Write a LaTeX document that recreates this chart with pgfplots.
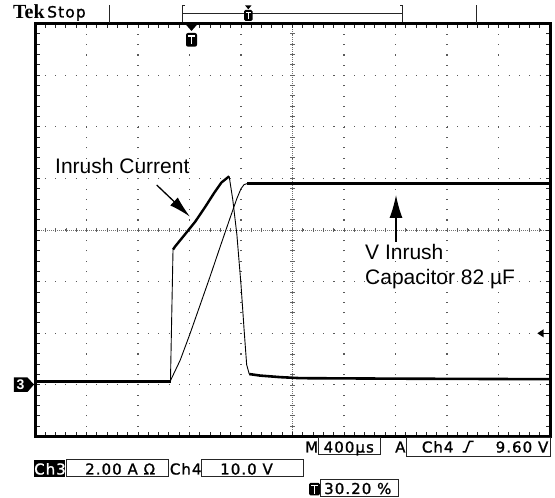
\documentclass[border=0pt]{standalone}
\usepackage{fontspec}
\setmainfont{Liberation Sans}
\newfontfamily\scopefont[LetterSpace=7,FakeBold=1.2]{DejaVu Sans}
\newfontfamily\tekfont{Liberation Serif}
\usepackage{pgfplots}
\pgfplotsset{compat=1.18}
\usetikzlibrary{arrows.meta}
\begin{document}
\begin{tikzpicture}
\path[use as bounding box] (-35pt,-61.5pt) rectangle (520pt,436.5pt);
\begin{scope}[x=1pt, y=-1pt, shift={(-35pt,436.5pt)}]
  % centre lines with fine ticks
  \draw[black!55, line width=0.7pt, dash pattern=on 0.7pt off 1.3pt] (35,230) -- (550,230);
  \draw[black!55, line width=0.7pt, dash pattern=on 0.7pt off 1.3pt] (292.5,23.5) -- (292.5,436.5);
  \foreach \k in {1,...,49} \draw[black!60, line width=0.7pt] ({35+10.3*\k},227.8) -- ++(0,4.4);
  \foreach \k in {1,...,39} \draw[black!60, line width=0.7pt] (290.3,{23.5+10.325*\k}) -- ++(4.4,0);
\end{scope}
\begin{axis}[
  at={(0pt,0pt)}, anchor=south west,
  scale only axis, width=515pt, height=413pt,
  xmin=-5, xmax=5, ymin=-4, ymax=4,
  xtick={-5,...,5}, ytick={-4,...,4},
  minor x tick num=4, minor y tick num=4,
  xticklabels={}, yticklabels={},
  tick align=inside,
  major tick length=4.5pt, minor tick length=4.5pt,
  every tick/.style={black!85, line width=0.9pt},
  grid=major,
  major grid style={black!65, line width=1.05pt, dash pattern=on 1.05pt off 9.26pt, dash phase=0.52pt},
  axis line style={black, line width=3pt},
  clip=false,
]
% current (Ch3)
\addplot[black, line width=3pt] coordinates {(-5,-2.94) (-2.36,-2.94)};
\addplot[black, line width=0.9pt] coordinates {(-2.37,-2.94) (-2.32,-0.38)};
\addplot[black, line width=2.4pt, line join=round] coordinates {(-2.32,-0.38) (-2.28,-0.32) (-2.10,-0.10) (-1.89,0.16) (-1.70,0.44) (-1.52,0.72) (-1.38,0.92) (-1.23,1.04)};
\addplot[black, line width=0.9pt] coordinates {(-1.23,1.04) (-1.16,0.59) (-1.08,-0.09) (-1.00,-1.06) (-0.94,-1.93) (-0.89,-2.61) (-0.84,-2.79)};
\addplot[black, line width=2.6pt] coordinates {(-0.84,-2.79) (-0.63,-2.82) (-0.24,-2.85) (0.15,-2.87) (2.09,-2.88) (5,-2.89)};
% voltage (Ch4)
\addplot[black, line width=0.9pt] coordinates {(-2.38,-2.94) (-2.18,-2.52) (-1.99,-2.01) (-1.80,-1.47) (-1.60,-0.90) (-1.41,-0.34) (-1.21,0.24) (-1.08,0.61) (-1.00,0.80) (-0.94,0.88) (-0.86,0.905)};
\addplot[black, line width=2.6pt] coordinates {(-0.88,0.905) (5,0.905)};
\end{axis}
\begin{scope}[x=1pt, y=-1pt, shift={(-35pt,436.5pt)}]
  \tikzset{sc/.style={anchor=base west, inner sep=0pt, font=\scopefont\fontsize{15}{15}\selectfont},
           bx/.style={black!85, line width=1pt}}
  % header
  \node[anchor=base west, inner sep=0pt, font=\tekfont\bfseries\fontsize{20}{20}\selectfont] at (13,18.5) {Tek};
  \node[anchor=base west, inner sep=0pt, font=\scopefont\fontsize{15.5}{15.5}\selectfont] at (47,17.5) {Stop};
  \draw[bx] (109,5) -- (109,23);
  \draw[bx] (476.7,5.5) -- (476.7,23);
  \draw[bx] (185,5.7) -- (182.7,5.7) -- (182.7,22);
  \draw[bx] (182.7,13.3) -- (402.7,13.3);
  \draw[bx] (400,5.7) -- (402.7,5.7) -- (402.7,22);
  \fill (245,5.3) -- (251.6,5.3) -- (248.3,9.3) -- cycle;
  \fill[rounded corners=1.5pt] (244,10) rectangle (252.6,21);
  \draw[white, line width=1.3pt] (245.6,12.6) -- (251,12.6) (248.3,12.6) -- (248.3,19.5);
  \fill (184.5,23) -- (198.5,23) -- (191.5,31) -- cycle;
  \fill[rounded corners=2pt] (186,33) rectangle (197,46.7);
  \draw[white, line width=1.5pt] (188,36) -- (195,36) (191.5,36) -- (191.5,44.5);
  % annotations
  \node[anchor=base west, inner sep=0pt, font=\fontsize{21}{21}\selectfont] at (55,174) {Inrush Current};
  \node[anchor=base west, inner sep=0pt, font=\fontsize{21}{21}\selectfont] at (365,259.3) {V Inrush};
  \node[anchor=base west, inner sep=0pt, font=\fontsize{21}{21}\selectfont] at (365,284.3) {Capacitor 82 µF};
  \draw[line width=1.3pt, -{Latex[length=22pt,width=11pt]}] (156.7,185) -- (190,216.7);
  \draw[line width=1.3pt, -{Latex[length=23pt,width=13pt]}] (396,242) -- (396,195);
  % trigger level arrow
  \fill (537.3,333.3) -- (543.5,329.3) -- (543.5,337.3) -- cycle;
  \draw[line width=1.3pt] (543,333.3) -- (549,333.3);
  % ground marker
  \fill (14,377.5) -- (27.5,377.5) -- (34,384.5) -- (27.5,392) -- (14,392) -- cycle;
  \node[white, inner sep=0pt, font=\bfseries\fontsize{14}{14}\selectfont] at (20.5,385) {3};
  % readouts
  \node[sc] at (305,452.5) {M};
  \draw[bx] (318.3,437.5) rectangle (380,454.5);
  \node[sc] at (323.5,452.5) {400µs};
  \node[sc] at (395,452.5) {A};
  \draw[bx] (406.7,437.5) rectangle (550,457);
  \node[sc] at (421.7,452.5) {Ch4};
  \draw[line width=1.5pt] (462.5,452) -- (465.5,452) -- (469.5,441.5) -- (473.5,441.5);
  \node[sc, anchor=base east] at (548.5,452.5) {9.60 V};
  \fill (33.7,460.5) rectangle (65,477);
  \node[sc, white] at (34,474.5) {Ch3};
  \draw[bx] (66.4,460) rectangle (168,477);
  \node[sc] at (85,474.5) {2.00 A Ω};
  \node[sc] at (169.7,474.5) {Ch4};
  \draw[bx] (201.7,460) rectangle (303,477);
  \node[sc] at (220,474.5) {10.0 V};
  \fill[rounded corners=1.5pt] (309,483) rectangle (320,495.5);
  \draw[white, line width=1.4pt] (310.8,485.5) -- (318.2,485.5) (314.5,485.5) -- (314.5,494);
  \draw[bx] (320.7,480) rectangle (398.3,496.7);
  \node[sc] at (324,494) {30.20 \%};
\end{scope}
\end{tikzpicture}
\end{document}
